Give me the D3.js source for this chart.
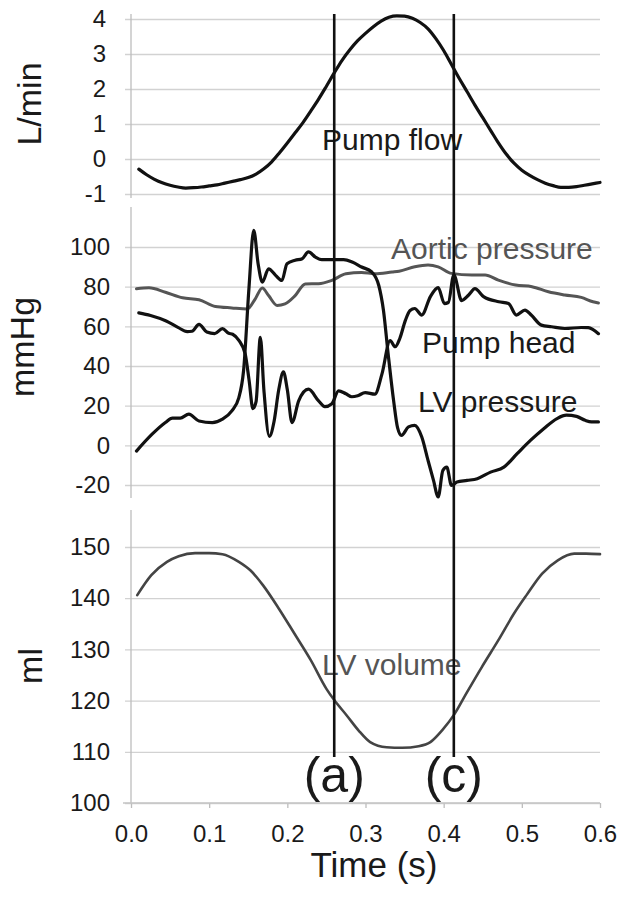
<!DOCTYPE html>
<html>
<head>
<meta charset="utf-8">
<script src="https://cdn.jsdelivr.net/npm/d3@7"></script>
<style>
  body { margin: 0; background: #fff; }
  svg { display: block; }
  text { font-family: "Liberation Sans", Arial, sans-serif; fill: #1a1a1a; }
</style>
</head>
<body>
<script>
// tick values
var timeTicks = [0, 0.1, 0.2, 0.3, 0.4, 0.5, 0.6];
var flowTicks = [-1, 0, 1, 2, 3, 4];
var pressureTicks = [-20, 0, 20, 40, 60, 80, 100];
var volumeTicks = [100, 110, 120, 130, 140, 150];

// series, [time (s), value]
var pumpFlow = [[0.01,-0.29],[0.02,-0.45],[0.03,-0.58],[0.04,-0.68],[0.05,-0.75],[0.06,-0.80],
  [0.07,-0.83],[0.08,-0.82],[0.09,-0.80],[0.10,-0.77],[0.11,-0.74],[0.12,-0.69],[0.13,-0.64],
  [0.14,-0.59],[0.15,-0.53],[0.16,-0.43],[0.17,-0.28],[0.18,-0.08],[0.19,0.18],[0.20,0.46],
  [0.21,0.75],[0.22,1.04],[0.23,1.37],[0.24,1.71],[0.25,2.08],[0.26,2.46],[0.27,2.82],
  [0.28,3.12],[0.29,3.38],[0.30,3.59],[0.31,3.78],[0.32,3.94],[0.33,4.05],[0.34,4.09],
  [0.35,4.08],[0.36,4.02],[0.37,3.90],[0.38,3.72],[0.39,3.44],[0.40,3.10],[0.41,2.70],
  [0.42,2.30],[0.43,1.92],[0.44,1.54],[0.45,1.18],[0.46,0.82],[0.47,0.46],[0.48,0.14],
  [0.49,-0.12],[0.50,-0.32],[0.51,-0.47],[0.52,-0.59],[0.53,-0.69],[0.54,-0.76],[0.55,-0.81],
  [0.56,-0.81],[0.57,-0.79],[0.58,-0.75],[0.59,-0.71],[0.60,-0.67]];

var aorticPressure = [[0.007,78.9],[0.023,79.4],[0.044,77.2],[0.066,74.4],[0.087,73.4],
  [0.108,70],[0.129,69.3],[0.149,68.8],[0.159,73.9],[0.168,79.3],[0.176,75.5],[0.187,70.5],
  [0.197,71.3],[0.21,75.5],[0.223,81.4],[0.24,81.5],[0.257,83.2],[0.275,86.5],[0.295,87.2],
  [0.312,86.5],[0.334,87.4],[0.343,87.8],[0.363,90],[0.38,90.9],[0.393,90],[0.41,86.7],
  [0.436,85.9],[0.453,85.9],[0.47,83.3],[0.492,80.8],[0.513,80],[0.534,77.4],[0.555,75.8],
  [0.576,74.6],[0.591,72.4],[0.598,71.8]];

var pumpHead = [[0.010,66.8],[0.025,65.5],[0.045,62.7],[0.060,59.5],[0.072,57.3],[0.078,57.5],
  [0.087,61.0],[0.097,57.1],[0.107,56.3],[0.117,58.8],[0.125,56.5],[0.130,56.0],[0.138,52.9],
  [0.146,46.2],[0.151,33],[0.156,18.5],[0.160,22],[0.1655,54.5],[0.170,28],[0.177,4.5],
  [0.183,12],[0.189,28],[0.195,37],[0.200,28],[0.206,11.5],[0.2145,22.4],[0.227,28.3],
  [0.240,22.4],[0.248,19.5],[0.257,21],[0.2655,27.5],[0.275,26],[0.2825,24.5],[0.290,25],
  [0.2996,26.6],[0.312,25.8],[0.321,35.9],[0.3315,52.8],[0.338,49.7],[0.344,54],[0.351,63],
  [0.357,68],[0.363,69],[0.372,65.7],[0.383,75],[0.393,79.5],[0.401,71.5],[0.406,72],
  [0.413,86],[0.423,73],[0.432,75.8],[0.440,79],[0.451,75],[0.4705,72.4],[0.483,71.5],
  [0.493,65.7],[0.504,68.2],[0.512,65.7],[0.525,60.6],[0.538,59.8],[0.555,58.9],[0.576,59.4],
  [0.585,59.3],[0.598,56.3]];

var lvPressure = [[0.007,-2.9],[0.027,5.6],[0.044,11.5],[0.053,13.7],[0.063,13.7],[0.074,15.7],
  [0.087,12.3],[0.104,11.5],[0.117,13.2],[0.129,17.4],[0.138,24.1],[0.144,37.6],[0.151,79.8],
  [0.157,108.4],[0.1626,91.6],[0.168,82.3],[0.176,89],[0.185,85.7],[0.193,83.1],[0.1996,91.6],
  [0.21,93.3],[0.219,94.1],[0.227,97.5],[0.236,94.9],[0.244,93.6],[0.257,93.6],[0.272,93.6],
  [0.283,92.4],[0.295,89.9],[0.308,87.4],[0.317,80.6],[0.323,68],[0.329,46],[0.336,22.4],
  [0.341,8.9],[0.346,5],[0.355,9.3],[0.363,10.1],[0.372,4.2],[0.38,-7.6],[0.387,-17.7],
  [0.393,-26],[0.399,-12.6],[0.404,-11],[0.41,-20.2],[0.417,-18.5],[0.43,-17.7],[0.443,-16.8],
  [0.46,-13.5],[0.477,-11],[0.494,-4.2],[0.511,2.5],[0.528,8.4],[0.545,13.5],[0.557,15.2],
  [0.57,14.6],[0.581,12.6],[0.589,11.8],[0.598,11.8]];

var lvVolume = [[0.008,140.6],[0.026,144.5],[0.046,147.1],[0.061,148.2],[0.082,148.8],
  [0.1,148.8],[0.117,148.6],[0.138,147.1],[0.153,145.4],[0.169,142.5],[0.189,138],
  [0.209,133.1],[0.23,127.9],[0.25,122.3],[0.26,120.1],[0.276,117.1],[0.291,114.2],
  [0.306,111.9],[0.327,110.9],[0.347,110.8],[0.368,111.1],[0.383,111.9],[0.398,114.2],
  [0.414,117.4],[0.429,121.4],[0.449,126.6],[0.47,131.8],[0.49,137],[0.506,140.6],
  [0.526,144.8],[0.546,147.4],[0.567,148.7],[0.582,148.7],[0.6,148.6]];

var markerTimes = [0.26, 0.413];
var markerLabels = ['(a)', '(c)'];

var width = 624, height = 899;
var left = 131, right = 600, gridLeft = 125;

var svg = d3.select("body").append("svg")
    .attr("width", width)
    .attr("height", height);

var x = d3.scaleLinear().domain([0, 0.6]).range([left, right]);

// three stacked panels sharing the time axis
var panels = [
  { ticks: flowTicks, y: d3.scaleLinear().domain([-1, 4]).range([194, 19]),
    axisTop: 14, axisBottom: 198, pad: 19,
    title: "L/min", titleX: 41, titleY: 104 },
  { ticks: pressureTicks, y: d3.scaleLinear().domain([-20, 100]).range([485, 247]),
    axisTop: 207, axisBottom: 498, pad: 15,
    title: "mmHg", titleX: 34, titleY: 347 },
  { ticks: volumeTicks, y: d3.scaleLinear().domain([100, 150]).range([803, 547]),
    axisTop: 510, axisBottom: 803, pad: 15,
    title: "ml", titleX: 42, titleY: 666 }
];

panels.forEach(function(p) {
  var g = svg.append("g")
      .attr("transform", "translate(" + gridLeft + ",0)")
      .call(d3.axisLeft(p.y)
        .tickValues(p.ticks)
        .tickFormat(function(d) { return String(d); })  // plain hyphen minus, like Excel
        .tickSize(-(right - gridLeft))
        .tickPadding(p.pad));
  g.select(".domain").remove();
  g.selectAll(".tick line").attr("stroke", "#d2d2d2").attr("stroke-width", 1.3);
  g.selectAll(".tick text")
      .style("font-size", "24px")
      .attr("fill", "#1a1a1a");

  svg.append("line")
      .attr("x1", left).attr("x2", left)
      .attr("y1", p.axisTop).attr("y2", p.axisBottom)
      .attr("stroke", "#bdbdbd")
      .attr("stroke-width", 1.3);

  svg.append("text")
      .attr("transform", "translate(" + p.titleX + "," + p.titleY + ") rotate(-90)")
      .attr("text-anchor", "middle")
      .style("font-size", "34px")
      .text(p.title);
});

// time axis
var xg = svg.append("g")
    .attr("transform", "translate(0,803)")
    .call(d3.axisBottom(x)
      .tickValues(timeTicks)
      .tickFormat(d3.format(".1f"))
      .tickSize(5)
      .tickPadding(17));
xg.select(".domain").remove();
xg.selectAll(".tick line").attr("stroke", "#bdbdbd").attr("stroke-width", 1.3);
xg.selectAll(".tick text").style("font-size", "24px").attr("fill", "#1a1a1a");
svg.append("line")
    .attr("x1", gridLeft - 2).attr("x2", right)
    .attr("y1", 803).attr("y2", 803)
    .attr("stroke", "#c4c4c4")
    .attr("stroke-width", 1.3);

svg.append("text")
    .attr("x", 374).attr("y", 877)
    .attr("text-anchor", "middle")
    .style("font-size", "35px")
    .text("Time (s)");

function drawSeries(data, y, color, w) {
  var line = d3.line()
      .x(function(d) { return x(d[0]); })
      .y(function(d) { return y(d[1]); })
      .curve(d3.curveMonotoneX);
  svg.append("path")
      .datum(data)
      .attr("d", line)
      .attr("fill", "none")
      .attr("stroke", color)
      .attr("stroke-width", w)
      .attr("stroke-linejoin", "round")
      .attr("stroke-linecap", "round");
}

drawSeries(pumpFlow, panels[0].y, "#111", 3.2);
drawSeries(aorticPressure, panels[1].y, "#555", 3);
drawSeries(pumpHead, panels[1].y, "#111", 3.2);
drawSeries(lvPressure, panels[1].y, "#111", 3.2);
drawSeries(lvVolume, panels[2].y, "#444", 2.6);

// curve names
var names = [
  { text: "Pump flow", x: 322, y: 150, color: "#1a1a1a" },
  { text: "Aortic pressure", x: 391, y: 259, color: "#555" },
  { text: "Pump head", x: 422, y: 353, color: "#1a1a1a" },
  { text: "LV pressure", x: 418, y: 412, color: "#1a1a1a" },
  { text: "LV volume", x: 322, y: 675, color: "#555" }
];
svg.selectAll(".name")
    .data(names)
  .enter().append("text")
    .attr("class", "name")
    .attr("x", function(d) { return d.x; })
    .attr("y", function(d) { return d.y; })
    .style("font-size", "30px")
    .style("fill", function(d) { return d.color; })
    .text(function(d) { return d.text; });

// event markers
svg.selectAll(".marker")
    .data(markerTimes)
  .enter().append("line")
    .attr("class", "marker")
    .attr("x1", function(d) { return x(d); })
    .attr("x2", function(d) { return x(d); })
    .attr("y1", 14)
    .attr("y2", 757)
    .attr("stroke", "#111")
    .attr("stroke-width", 2.6);

svg.selectAll(".markerLabel")
    .data(markerTimes)
  .enter().append("text")
    .attr("class", "markerLabel")
    .attr("x", function(d) { return x(d); })
    .attr("y", 792)
    .attr("text-anchor", "middle")
    .style("font-size", "50px")
    .text(function(d, i) { return markerLabels[i]; });
</script>
</body>
</html>
